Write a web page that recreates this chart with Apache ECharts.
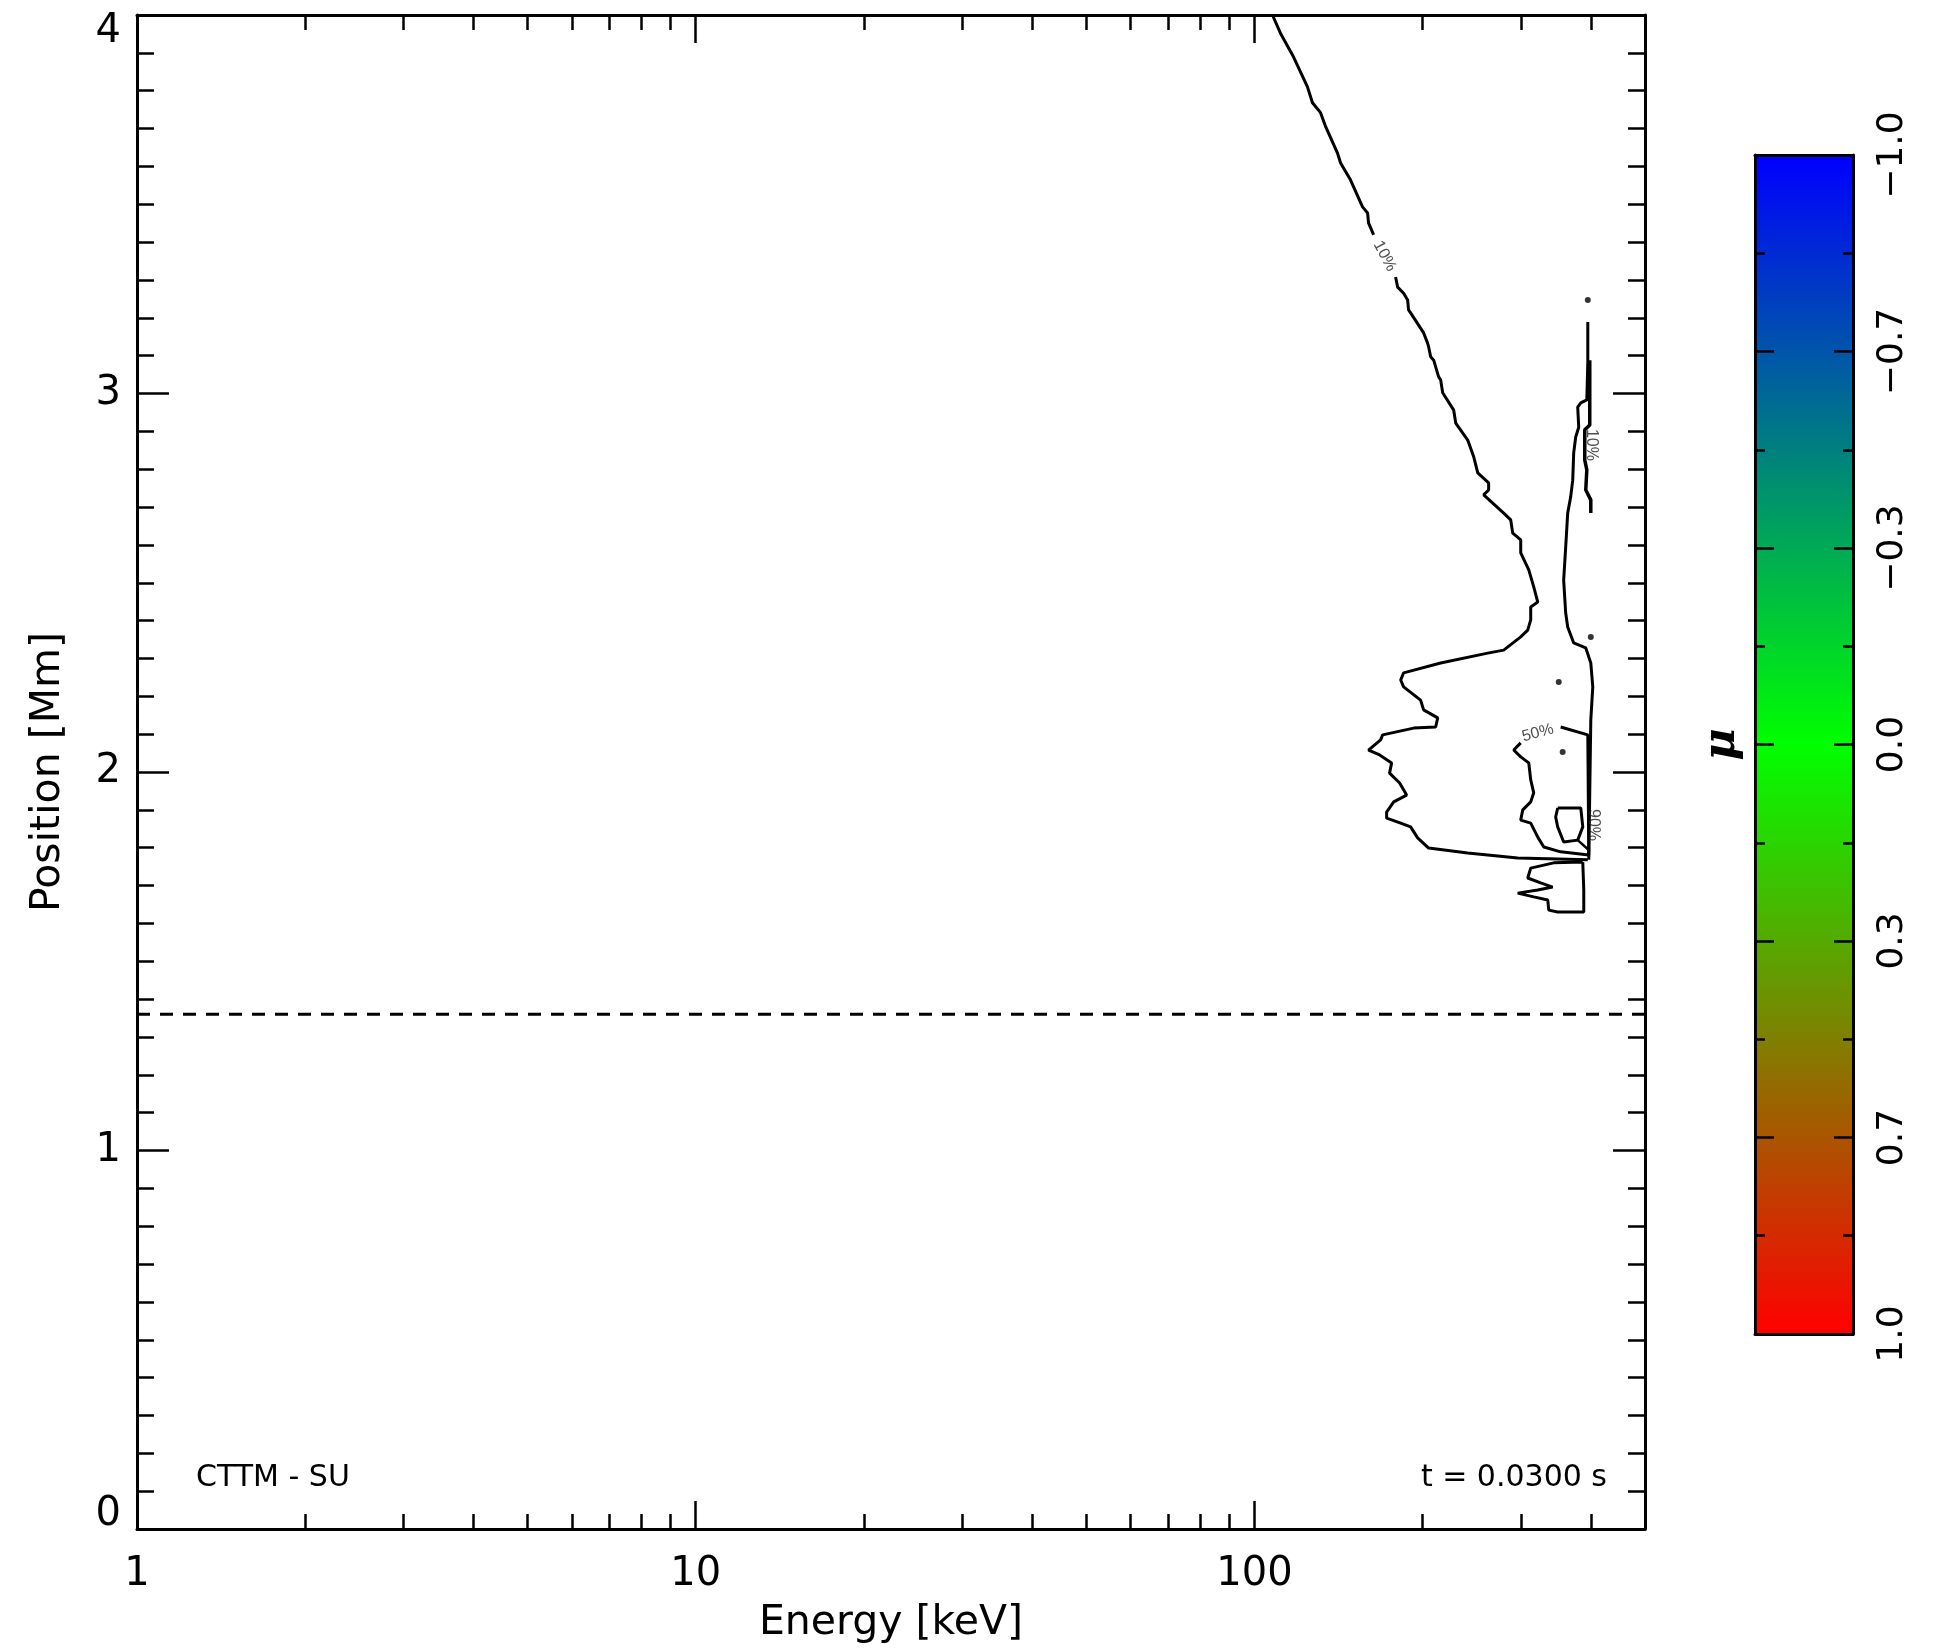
<!DOCTYPE html>
<html>
<head>
<meta charset="utf-8">
<script src="https://cdn.jsdelivr.net/npm/echarts@6/dist/echarts.min.js"></script>
<style>
html,body{margin:0;padding:0;background:#fff;}
#chart{width:1941px;height:1648px;}
</style>
</head>
<body>
<div id="chart"></div>
<script>
// ---------------- data ----------------
const energyMin = 1, energyMax = 500;            // keV
const positionMin = 0, positionMax = 4;          // Mm
const energyTicksMajor = [1, 10, 100];
const energyTicksMinor = [2,3,4,5,6,7,8,9,20,30,40,50,60,70,80,90,200,300,400];

const muMin = -1, muMax = 1;
const muTicksMajor = [-1, -0.6667, -0.3333, 0, 0.3333, 0.6667, 1];
const muTickLabels = ['\u22121.0', '\u22120.7', '\u22120.3', '0.0', '0.3', '0.7', '1.0'];
const muTicksMinor = [-0.8333, -0.5, -0.1667, 0.1667, 0.5, 0.8333];
const muStops = [-1, 0, 1];
const muColors = ['#0000ff', '#00ff00', '#ff0000'];

const dashedPosition = 1.36;   // Mm
const modelName = 'CTTM - SU';
const timeLabel = 't = 0.0300 s';

// contour polylines: [energy keV, position Mm]
const contour10Upper = [[107.7,4.0],[111.3,3.952],[117.5,3.889],[124.4,3.810],[127.0,3.768],[131.3,3.742],[134.1,3.705],[140.8,3.635],[142.6,3.609],[148.6,3.564],[156.1,3.493],[159.4,3.477],[160.0,3.451],[163.4,3.419]];
const contour10Lower = [[178.9,3.308],[180.4,3.281],[184.9,3.265],[188.0,3.247],[188.7,3.221],[190.3,3.213],[200.8,3.160],[204.1,3.133],[205.0,3.123],[206.7,3.097],[209.3,3.088],[213.6,3.044],[215.4,3.036],[217.2,3.002],[227.3,2.956],[229.2,2.922],[240.8,2.877],[246.9,2.832],[251.0,2.790],[262.5,2.764],[262.5,2.745],[257.2,2.732],[279.3,2.684],[287.5,2.666],[289.9,2.631],[299.6,2.613],[299.6,2.579],[309.7,2.534],[316.1,2.489],[321.4,2.449],[312.2,2.436],[312.2,2.402],[308.4,2.375],[299.6,2.357],[279.3,2.322],[261.5,2.314],[215.4,2.288],[184.9,2.262],[182.7,2.243],[184.9,2.225],[198.3,2.190],[200.8,2.164],[212.8,2.143],[211.0,2.119],[192.7,2.116],[169.6,2.098],[168.2,2.085],[160.0,2.058],[167.5,2.045],[176.0,2.024],[174.5,1.997],[181.9,1.971],[187.2,1.939],[177.5,1.921],[172.4,1.894],[172.4,1.878],[182.7,1.865],[190.3,1.855],[195.9,1.826],[205.0,1.799],[240.8,1.786],[295.9,1.773],[395.0,1.768]];
const contour10Right = [[396.6,1.768],[399.9,2.137],[403.2,2.225],[399.9,2.288],[391.7,2.328],[372.7,2.341],[363.6,2.383],[360.6,2.420],[357.6,2.507],[360.6,2.594],[363.6,2.684],[368.1,2.727],[371.2,2.771],[372.7,2.843],[375.8,2.885],[380.5,2.911],[378.9,2.964],[383.7,2.975],[393.4,2.983],[395.0,3.083],[395.0,3.189]];
const contour10Inner = [[398.2,3.088],[398.2,2.917],[390.1,2.904],[390.1,2.824],[393.4,2.798],[391.7,2.745],[399.9,2.719],[399.9,2.684]];
const contour10Tail = [[386.9,1.762],[343.2,1.760],[312.2,1.746],[308.4,1.720],[325.3,1.707],[341.7,1.696],[321.4,1.688],[295.9,1.680],[316.1,1.670],[334.9,1.662],[336.3,1.635],[348.9,1.630],[388.5,1.630],[388.5,1.688],[386.9,1.762]];
const contour50 = [[299.6,2.077],[291.1,2.058],[299.6,2.040],[309.7,2.024],[312.2,1.979],[316.1,1.945],[312.2,1.921],[302.1,1.900],[299.6,1.873],[312.2,1.865],[321.4,1.828],[329.5,1.802],[353.2,1.789],[396.6,1.781],[395.0,2.098],[353.2,2.119]];
const contour90 = [[348.9,1.905],[383.7,1.905],[386.9,1.855],[378.9,1.820],[357.6,1.815],[348.9,1.855],[346.0,1.881],[348.9,1.905]];
const contour90Stub = [[378.9,1.820],[396.6,1.794]];
const contourDots = [[395.0,3.247],[399.9,2.357],[350.4,2.238],[356.1,2.053]];
const contourLabelText = ['10%', '10%', '50%', '90%'];
const contourLabelAt = [[171.0,3.363],[401.6,2.864],[321.4,2.103],[404.9,1.860]];

// ---------------- chart ----------------
const lg = Math.log10;
const toXY = arr => arr.map(([e, p]) => [lg(e), p]);
const FONT = 'DejaVu Sans';
const BLACK = '#000';

const xMin = lg(energyMin), xMax = lg(energyMax);
const xFmt = v => String(Math.round(Math.pow(10, v)));
const majorX = energyTicksMajor.map(lg);
const minorX = energyTicksMinor.map(lg);

function xAx(pos, major, labels) {
  return {
    gridIndex: 0, type: 'value', position: pos, min: xMin, max: xMax, z: 10,
    axisLine: {show: major, onZero: false, lineStyle: {color: BLACK, width: 3}},
    axisTick: {show: true, inside: true, length: major ? 28 : 15,
      customValues: major ? majorX : minorX, lineStyle: {color: BLACK, width: 2.5}},
    axisLabel: labels ? {show: true, customValues: majorX, formatter: xFmt, color: BLACK,
      fontFamily: FONT, fontSize: 40, margin: 26} : {show: false},
    splitLine: {show: false},
    name: labels ? 'Energy [keV]' : '',
    nameLocation: 'middle', nameGap: 74,
    nameTextStyle: {color: BLACK, fontFamily: FONT, fontSize: 41}
  };
}
function yFmt(v) {
  if (v === positionMin) return '{lo|' + v + '}';
  if (v === positionMax) return '{hi|' + v + '}';
  return String(v);
}
function yAx(pos, labels) {
  const rs = {color: BLACK, fontFamily: FONT, fontSize: 40};
  return {
    gridIndex: 0, type: 'value', position: pos, min: positionMin, max: positionMax, interval: 1, z: 10,
    axisLine: {show: true, onZero: false, lineStyle: {color: BLACK, width: 3}},
    axisTick: {show: true, inside: true, length: 32, lineStyle: {color: BLACK, width: 2.5}},
    minorTick: {show: true, splitNumber: 10, length: 17, lineStyle: {color: BLACK, width: 2.5}},
    axisLabel: labels ? {show: true, color: BLACK, fontFamily: FONT, fontSize: 40, margin: 16,
      formatter: yFmt,
      rich: {lo: Object.assign({padding: [0, 0, 28, 0]}, rs), hi: Object.assign({padding: [34, 0, 0, 0]}, rs)}
    } : {show: false},
    splitLine: {show: false}, minorSplitLine: {show: false},
    name: labels ? 'Position [Mm]' : '',
    nameLocation: 'middle', nameGap: 68, nameRotate: 90,
    nameTextStyle: {color: BLACK, fontFamily: FONT, fontSize: 41}
  };
}
function muLabel(v) {
  for (let i = 0; i < muTicksMajor.length; i++) {
    if (Math.abs(muTicksMajor[i] - v) < 1e-3) return muTickLabels[i];
  }
  return '';
}
function cbAx(pos, major, labels) {
  return {
    gridIndex: 1, type: 'value', position: pos, min: muMin, max: muMax, inverse: true, z: 10,
    axisLine: {show: major, onZero: false, lineStyle: {color: BLACK, width: 3}},
    axisTick: {show: true, inside: true, length: major ? 19 : 10,
      customValues: major ? muTicksMajor : muTicksMinor, lineStyle: {color: BLACK, width: 2.5}},
    axisLabel: labels ? {show: true, customValues: muTicksMajor, formatter: muLabel, rotate: 90,
      color: BLACK, fontFamily: FONT, fontSize: 36, margin: 22} : {show: false},
    splitLine: {show: false},
    name: (pos === 'left' && major) ? '\u03bc' : '',
    nameLocation: 'middle', nameGap: 10, nameRotate: 90,
    nameTextStyle: {color: BLACK, fontFamily: 'DejaVu Serif', fontStyle: 'italic', fontWeight: 'bold', fontSize: 44}
  };
}
function cbX(pos) {
  return {
    gridIndex: 1, type: 'value', position: pos, min: 0, max: 1, z: 10,
    axisLine: {show: true, onZero: false, lineStyle: {color: BLACK, width: 3}},
    axisTick: {show: false}, axisLabel: {show: false}, splitLine: {show: false}
  };
}

function contourLine(arr, w) {
  return {type: 'line', xAxisIndex: 0, yAxisIndex: 0, data: toXY(arr), symbol: 'none', showSymbol: false,
    silent: true, lineStyle: {color: BLACK, width: w || 3}, z: 3};
}
function contourText(i, rot) {
  return {type: 'scatter', xAxisIndex: 0, yAxisIndex: 0, data: [toXY([contourLabelAt[i]])[0]],
    symbolSize: 0, silent: true, z: 4,
    label: {show: true, position: 'inside', formatter: contourLabelText[i], rotate: rot,
      color: '#222', fontFamily: 'Liberation Sans', fontSize: 16}};
}

const gradStops = muStops.map((m, i) => ({offset: (m - muMin) / (muMax - muMin), color: muColors[i]}));

const option = {
  animation: false,
  backgroundColor: '#ffffff',
  grid: [
    {left: 137, top: 15, width: 1508, height: 1514, containLabel: false, outerBoundsMode: 'none'},
    {left: 1755, top: 155, width: 98, height: 1179, containLabel: false, outerBoundsMode: 'none'}
  ],
  xAxis: [xAx('bottom', true, true), xAx('bottom', false, false), xAx('top', true, false), xAx('top', false, false),
          cbX('bottom'), cbX('top')],
  yAxis: [yAx('left', true), yAx('right', false),
          cbAx('left', true, false), cbAx('left', false, false), cbAx('right', true, true), cbAx('right', false, false)],
  graphic: [
    {type: 'text', left: 196, top: 1463, style: {text: modelName, font: '30px "DejaVu Sans"', fill: BLACK}},
    {type: 'text', right: 334, top: 1463, style: {text: timeLabel, font: '30px "DejaVu Sans"', fill: BLACK}}
  ],
  series: [
    {
      type: 'custom', xAxisIndex: 4, yAxisIndex: 2, silent: true, z: 1, clip: false,
      data: [[0, 1, muMin, muMax]],
      renderItem: function (params, api) {
        const p0 = api.coord([api.value(0), api.value(2)]);
        const p1 = api.coord([api.value(1), api.value(3)]);
        return {
          type: 'rect',
          shape: {x: Math.min(p0[0], p1[0]), y: Math.min(p0[1], p1[1]),
                  width: Math.abs(p1[0] - p0[0]), height: Math.abs(p1[1] - p0[1])},
          style: {fill: new echarts.graphic.LinearGradient(0, 0, 0, 1, gradStops)}
        };
      }
    },
    {
      type: 'line', xAxisIndex: 0, yAxisIndex: 0, symbol: 'none', silent: true, z: 3,
      data: [[lg(energyMin), dashedPosition], [lg(energyMax), dashedPosition]],
      lineStyle: {color: BLACK, width: 3, type: [13, 10]}
    },
    contourLine(contour10Upper),
    contourLine(contour10Lower),
    contourLine(contour10Right),
    contourLine(contour10Inner, 3.5),
    contourLine(contour10Tail),
    contourLine(contour50),
    contourLine(contour90),
    contourLine(contour90Stub, 2.5),
    {type: 'scatter', xAxisIndex: 0, yAxisIndex: 0, data: toXY(contourDots), symbol: 'circle',
     symbolSize: 6, silent: true, itemStyle: {color: BLACK}, z: 3},
    contourText(0, -62),
    contourText(1, -90),
    contourText(2, 15),
    contourText(3, -90)
  ]
};

const chart = echarts.init(document.getElementById('chart'), null, {renderer: 'canvas', width: 1941, height: 1648});
chart.setOption(option);
</script>
</body>
</html>
